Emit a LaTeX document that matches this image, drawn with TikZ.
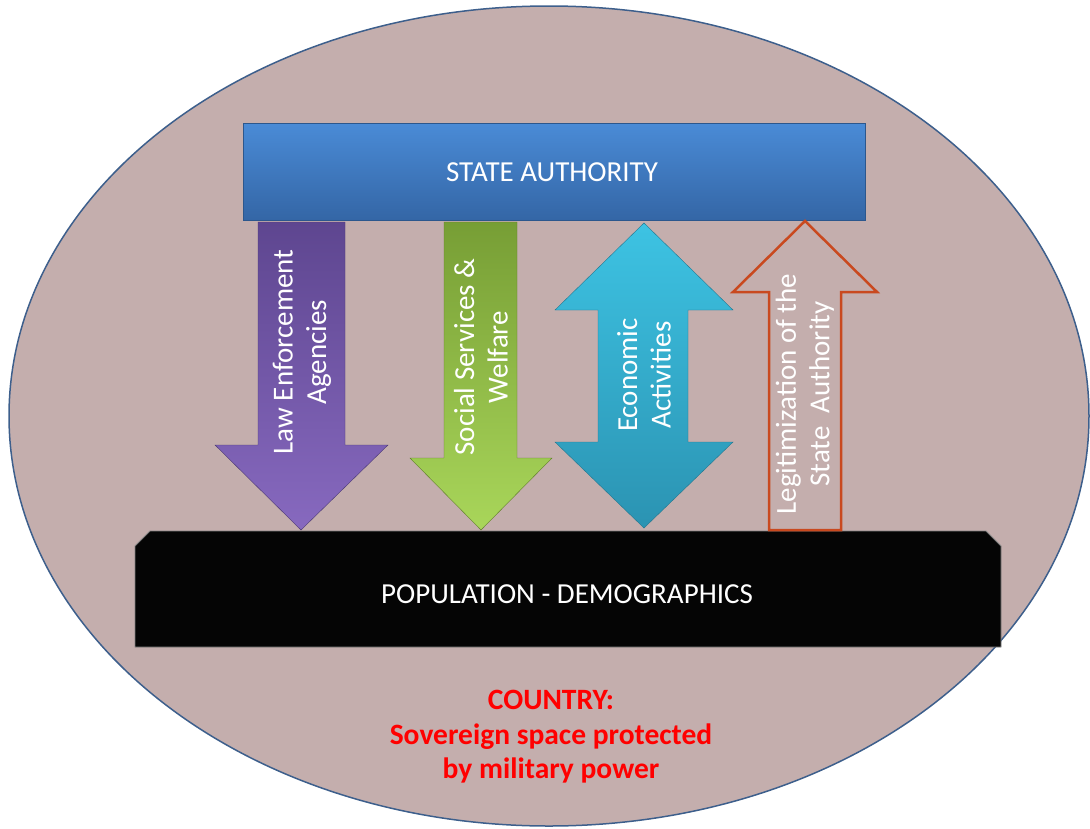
\documentclass[tikz,border=0pt]{standalone}
\usepackage{fontspec}
\setmainfont{Carlito}
\definecolor{ellfill}{HTML}{C4AEAD}
\definecolor{ellline}{HTML}{3D5F8C}
\definecolor{bluetop}{HTML}{4A8BD6}
\definecolor{bluebot}{HTML}{3466A6}
\definecolor{purtop}{HTML}{5E4690}
\definecolor{purbot}{HTML}{8769BF}
\definecolor{grntop}{HTML}{779E35}
\definecolor{grnbot}{HTML}{A9D65A}
\definecolor{cyntop}{HTML}{3DC3E3}
\definecolor{cynbot}{HTML}{2B93B2}
\definecolor{legred}{HTML}{C9491F}
\definecolor{txtred}{HTML}{FF0000}
\tikzset{
  lbl/.style={text=white, font=\fontsize{29}{33.5}\selectfont, align=center, inner sep=0pt},
  rotlbl/.style={lbl, rotate=90},
  redlbl/.style={text=txtred, font=\bfseries\fontsize{29.5}{34.5}\selectfont, align=center, inner sep=0pt},
  blockarrow/.style={draw=#1!80!black, line width=0.4pt}
}
\begin{document}
\begin{tikzpicture}[x=1pt,y=-1pt]
\useasboundingbox (0,0) rectangle (1090,828);
% country ellipse
\draw[fill=ellfill, draw=ellline, line width=1.5pt] (549,416) ellipse [x radius=540, y radius=410];
% state authority bar
\shade[top color=bluetop, bottom color=bluebot, draw=bluebot!85!black, line width=0.6pt] (243,123) rectangle (865,220);
\node[lbl] (state) at (552,172) {STATE AUTHORITY};
% population bar
\draw[fill=black!98, draw=black!50, line width=0.8pt] (135,546) -- (150,531) -- (986,531) -- (1001,546) -- (1001,647) -- (135,647) -- cycle;
\node[lbl] (pop) at (567,594) {POPULATION - DEMOGRAPHICS};
% law enforcement arrow
\shade[top color=purtop, bottom color=purbot, blockarrow=purtop]
  (258,222) -- (345,222) -- (345,445) -- (388,445) -- (301,530) -- (215,445) -- (258,445) -- cycle;
\node[rotlbl] (law) at (302,352) {Law Enforcement\\Agencies};
% social services arrow
\shade[top color=grntop, bottom color=grnbot, blockarrow=grntop]
  (444,222) -- (517,222) -- (517,458) -- (552,458) -- (481,530) -- (410,458) -- (444,458) -- cycle;
\node[rotlbl] (soc) at (481,357) {Social Services \&\\Welfare};
% economic double arrow
\shade[top color=cyntop, bottom color=cynbot, blockarrow=cynbot]
  (644,223) -- (733,310) -- (688,310) -- (688,442) -- (733,442) -- (644,528) -- (555,442) -- (598,442) -- (598,310) -- (555,310) -- cycle;
\node[rotlbl] (eco) at (644,375) {Economic\\Activities};
% legitimization arrow
\draw[draw=legred, line width=2.5pt, line join=miter]
  (805,221) -- (877,292) -- (841,292) -- (841,530) -- (769,530) -- (769,292) -- (733,292) -- cycle;
\node[rotlbl] (leg) at (805,394) {Legitimization of the\\State\ \ Authority};
% country caption
\node[redlbl] (country) at (551,737) {COUNTRY:\\Sovereign space protected\\by military power};
\end{tikzpicture}
\end{document}
